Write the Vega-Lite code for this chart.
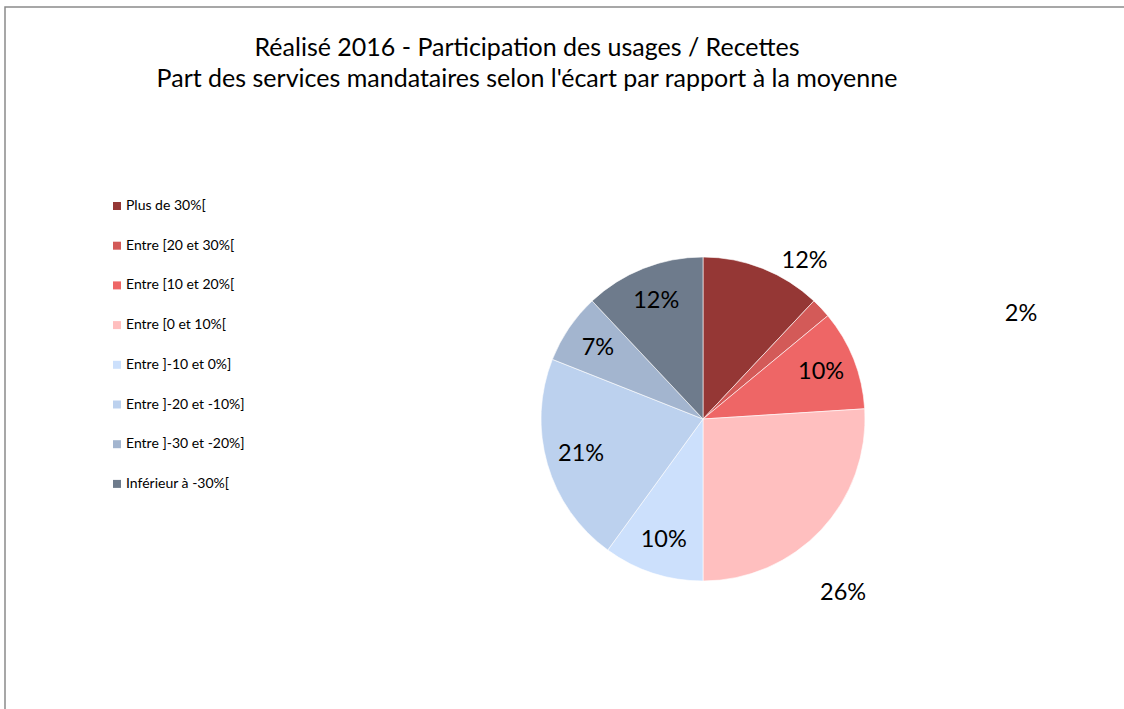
{
  "$schema": "https://vega.github.io/schema/vega-lite/v6.json",
  "width": 1396,
  "height": 824,
  "autosize": {"type": "none"},
  "padding": {"left": 5, "top": 7, "right": 0, "bottom": 0},
  "background": "white",
  "view": {"stroke": "#8a8a8a", "strokeWidth": 1.5, "fill": "#ffffff"},
  "config": {
    "view": {"stroke": "#8a8a8a", "strokeWidth": 1.5},
    "font": "Lato"
  },
  "title": {
    "text": ["Réalisé 2016 - Participation des usages / Recettes", "Part des services mandataires selon l'écart par rapport à la moyenne"],
    "orient": "top",
    "anchor": "middle",
    "frame": "group",
    "dx": -176,
    "offset": -85,
    "baseline": "top",
    "font": "Lato",
    "fontSize": 25,
    "fontWeight": "normal",
    "color": "#000000",
    "lineHeight": 31
  },
  "data": {
    "values": [
      {"cat": "Plus de 30%[", "value": 12, "label": "12%", "order": 1},
      {"cat": "Entre [20 et 30%[", "value": 2, "label": "2%", "order": 2},
      {"cat": "Entre [10 et 20%[", "value": 10, "label": "10%", "order": 3},
      {"cat": "Entre [0 et 10%[", "value": 26, "label": "26%", "order": 4},
      {"cat": "Entre ]-10 et 0%]", "value": 10, "label": "10%", "order": 5},
      {"cat": "Entre ]-20 et -10%]", "value": 21, "label": "21%", "order": 6},
      {"cat": "Entre ]-30 et -20%]", "value": 7, "label": "7%", "order": 7},
      {"cat": "Inférieur à -30%[", "value": 12, "label": "12%", "order": 8}
    ]
  },
  "encoding": {
    "theta": {"field": "value", "type": "quantitative", "stack": true},
    "order": {"field": "order", "type": "quantitative"}
  },
  "layer": [
    {
      "mark": {"type": "arc", "outerRadius": 162, "stroke": "#ffffff", "strokeWidth": 0.6},
      "encoding": {
        "color": {
          "field": "cat",
          "type": "nominal",
          "scale": {
            "domain": ["Plus de 30%[", "Entre [20 et 30%[", "Entre [10 et 20%[", "Entre [0 et 10%[", "Entre ]-10 et 0%]", "Entre ]-20 et -10%]", "Entre ]-30 et -20%]", "Inférieur à -30%["],
            "range": ["#953735", "#d35a58", "#ee6666", "#ffbfbf", "#cce0fc", "#bcd1ee", "#a3b5cf", "#6e7b8c"]
          },
          "legend": {
            "orient": "none",
            "legendX": 105,
            "legendY": 192,
            "title": null,
            "symbolType": "square",
            "symbolSize": 64,
            "symbolStrokeWidth": 0,
            "labelFont": "Lato",
            "labelFontSize": 14,
            "labelColor": "#000000",
            "labelOffset": 2,
            "rowPadding": 25.7,
            "padding": 0
          }
        }
      }
    },
    {
      "mark": {"type": "text", "radius": 127, "fontSize": 23.5, "fill": "#000000", "font": "Lato"},
      "encoding": {
        "detail": {"field": "cat", "type": "nominal"},
        "text": {
          "condition": {"test": "datum.cat != 'Plus de 30%[' && datum.cat != 'Entre [20 et 30%[' && datum.cat != 'Entre [0 et 10%['", "field": "label", "type": "nominal"},
          "value": ""
        }
      }
    },
    {
      "mark": {"type": "text", "radius": 162, "dx": 42, "dy": -7, "fontSize": 23.5, "fill": "#000000", "font": "Lato"},
      "encoding": {
        "detail": {"field": "cat", "type": "nominal"},
        "text": {
          "condition": {"test": "datum.cat == 'Plus de 30%['", "field": "label", "type": "nominal"},
          "value": ""
        }
      }
    },
    {
      "mark": {"type": "text", "radius": 162, "dx": 200, "dy": 6, "fontSize": 23.5, "fill": "#000000", "font": "Lato"},
      "encoding": {
        "detail": {"field": "cat", "type": "nominal"},
        "text": {
          "condition": {"test": "datum.cat == 'Entre [20 et 30%['", "field": "label", "type": "nominal"},
          "value": ""
        }
      }
    },
    {
      "mark": {"type": "text", "radius": 162, "dx": 22, "dy": 63, "fontSize": 23.5, "fill": "#000000", "font": "Lato"},
      "encoding": {
        "detail": {"field": "cat", "type": "nominal"},
        "text": {
          "condition": {"test": "datum.cat == 'Entre [0 et 10%['", "field": "label", "type": "nominal"},
          "value": ""
        }
      }
    }
  ]
}
